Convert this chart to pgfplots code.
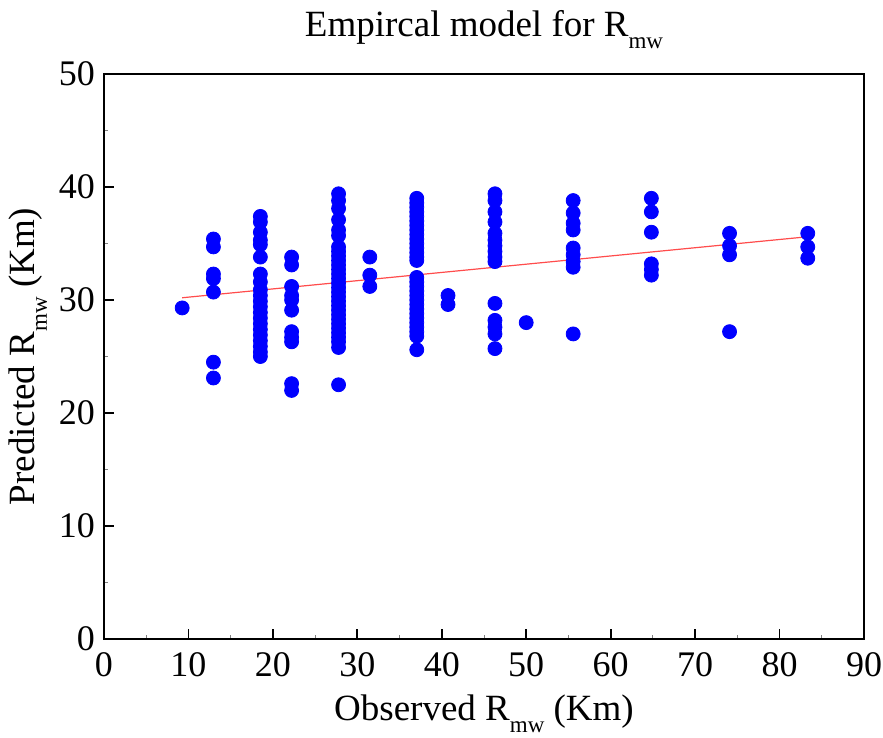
\documentclass[border=0pt]{standalone}
\usepackage{fontspec}
\setmainfont{Liberation Serif}
\usepackage{pgfplots}
\pgfplotsset{compat=1.18}
\newcommand{\Rmw}{R\raisebox{-0.7ex}{\fontsize{11.5}{11.5}\selectfont mw}}
\begin{document}
\begin{tikzpicture}
\begin{axis}[scale only axis,width=380pt,height=282.5pt,
  xmin=0,xmax=90,ymin=0,ymax=50,
  xtick={0,10,...,90},ytick={0,10,...,50},
  minor x tick num=1,minor y tick num=1,
  tick align=inside,xtick pos=bottom,ytick pos=left,
  major tick length=5pt,minor tick length=2pt,
  axis line style={line width=0.9pt},
  every tick/.style={black,line width=0.9pt},
  minor tick style={line width=0.4pt,gray},
  tick label style={font=\fontsize{18}{18}\selectfont},
  /pgf/number format/assume math mode=true,
  xticklabel style={yshift=-3pt,inner xsep=0pt},
  yticklabel style={xshift=-1pt},
  title={Empircal model for \Rmw},
  every axis title shift=0pt,
  title style={font=\fontsize{18.5}{18.5}\selectfont,inner sep=0pt,
    at={(axis description cs:0.5,1.0655)},anchor=base},
  xlabel={Observed \Rmw\ (Km)},
  ylabel={Predicted \Rmw\ (Km)},
  label style={font=\fontsize{18.5}{18.5}\selectfont,inner sep=0pt},
  xlabel style={at={(axis description cs:0.5,-0.145)},anchor=base},
  ylabel style={at={(axis description cs:-0.0908,0.5)},anchor=base},
  clip=false]
\addplot[only marks,mark=*,mark size=3.5pt,draw=blue,fill=blue] coordinates {
(9.26,29.3)
(12.96,35.4)(12.96,34.7)(12.96,32.3)(12.96,31.9)(12.96,30.7)(12.96,24.5)(12.96,23.1)
(18.52,37.4)(18.52,36.9)(18.52,36.0)(18.52,35.3)(18.52,34.9)(18.52,33.8)(18.52,32.3)(18.52,31.6)
(18.52,30.9)(18.52,30.4)(18.52,29.9)(18.52,29.4)(18.52,28.9)(18.52,28.4)(18.52,27.9)(18.52,27.4)
(18.52,26.9)(18.52,26.4)(18.52,25.9)(18.52,25.4)(18.52,25.0)
(22.22,33.8)(22.22,33.1)(22.22,31.2)(22.22,30.4)(22.22,30.0)(22.22,29.1)(22.22,27.2)(22.22,26.7)
(22.22,26.3)(22.22,22.6)(22.22,22.0)
(27.78,39.4)(27.78,38.8)(27.78,38.1)(27.78,37.1)(27.78,36.2)(27.78,35.7)(27.78,34.7)(27.78,34.3)
(27.78,33.9)(27.78,33.5)(27.78,33.1)(27.78,32.7)(27.78,32.3)(27.78,31.9)(27.78,31.5)(27.78,31.1)
(27.78,30.7)(27.78,30.3)(27.78,29.9)(27.78,29.5)(27.78,29.1)(27.78,28.7)(27.78,28.3)(27.78,27.9)
(27.78,27.5)(27.78,27.1)(27.78,26.7)(27.78,26.3)(27.78,25.8)(27.78,22.5)
(31.48,33.8)(31.48,32.2)(31.48,31.2)
(37.04,39.0)(37.04,38.6)(37.04,38.2)(37.04,37.8)(37.04,37.4)(37.04,37.0)(37.04,36.6)(37.04,36.2)
(37.04,35.8)(37.04,35.4)(37.04,35.0)(37.04,34.6)(37.04,34.2)(37.04,33.8)(37.04,33.5)
(37.04,32.0)(37.04,31.6)(37.04,31.2)(37.04,30.8)(37.04,30.4)(37.04,30.0)(37.04,29.6)(37.04,29.2)
(37.04,28.8)(37.04,28.4)(37.04,28.0)(37.04,27.6)(37.04,27.2)(37.04,26.8)(37.04,25.6)
(40.74,30.4)(40.74,29.6)
(46.30,39.4)(46.30,38.8)(46.30,37.8)(46.30,36.9)(46.30,35.9)(46.30,35.3)(46.30,34.8)(46.30,34.3)
(46.30,33.8)(46.30,33.4)(46.30,29.7)(46.30,28.2)(46.30,27.6)(46.30,27.0)(46.30,25.7)
(50.00,28.0)
(55.56,38.8)(55.56,37.7)(55.56,36.8)(55.56,36.2)(55.56,34.6)(55.56,34.0)(55.56,33.4)(55.56,32.9)
(55.56,27.0)
(64.82,39.0)(64.82,37.8)(64.82,36.0)(64.82,33.2)(64.82,32.7)(64.82,32.2)
(74.08,35.9)(74.08,34.8)(74.08,34.0)(74.08,27.2)
(83.34,35.9)(83.34,34.7)(83.34,33.7)
};
\addplot[red,line width=0.6pt,opacity=0.7] coordinates {(9.26,30.2)(83.34,35.6)};
% blank margins as in the reference
\path (rel axis cs:-0.1368,-0.1735) rectangle (rel axis cs:1.025,1.131);
\end{axis}
\end{tikzpicture}
\end{document}
